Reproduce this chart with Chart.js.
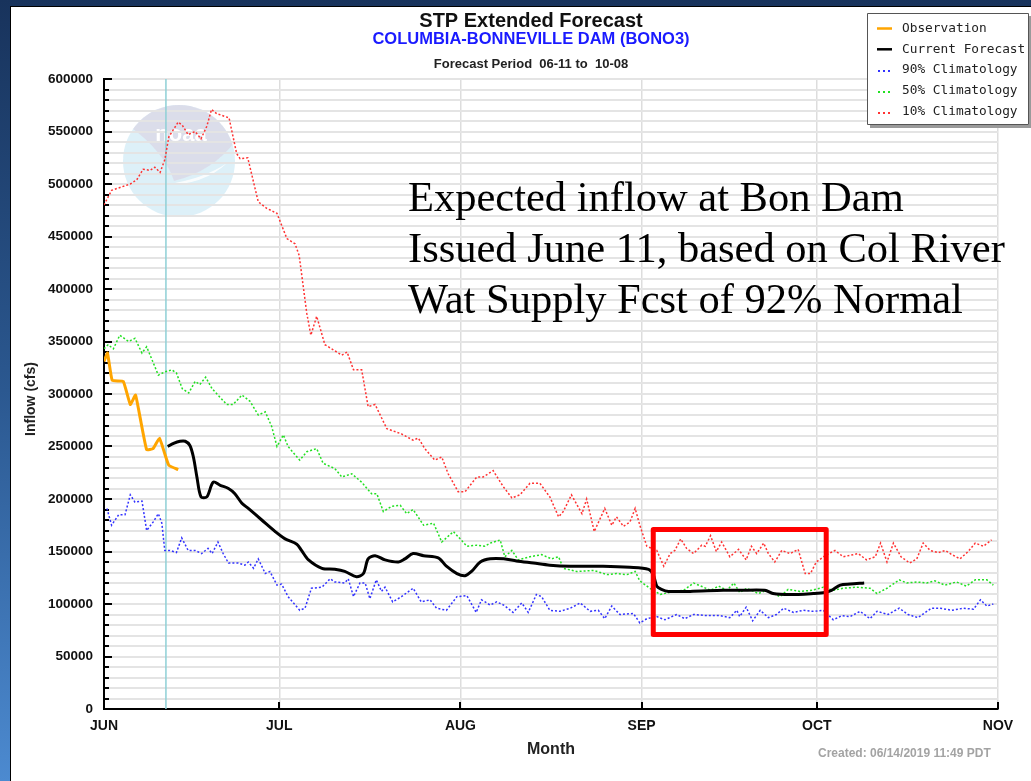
<!DOCTYPE html>
<html>
<head>
<meta charset="utf-8">
<script src="https://cdn.jsdelivr.net/npm/chart.js@4.4.1/dist/chart.umd.min.js"></script>
<style>
  html, body { margin: 0; padding: 0; }
  body { width: 1031px; height: 781px; overflow: hidden; position: relative;
         background: linear-gradient(to bottom, #18335c 0%, #2b5890 50%, #4c8ad0 100%); }
  #panel { position: absolute; left: 10px; top: 6px; width: 1020px; height: 774px;
           background: #fff; border-left: 1px solid #000; border-top: 1px solid #000; }
  #myChart { position: absolute; left: 0; top: 0; }
</style>
</head>
<body>
<div id="panel"><canvas id="myChart" width="1020" height="774"></canvas></div>
<script>
// x values are days after June 1
const monthStarts = [0, 30, 61, 92, 122, 153];
const monthLabels = ['JUN', 'JUL', 'AUG', 'SEP', 'OCT', 'NOV'];
const flowTicks = [];
for (let v = 0; v <= 600000; v += 10000) flowTicks.push(v);

const obsDays = [0, 0.6, 1.4, 3.3, 4.5, 5.4, 6.2, 7.3, 8.4, 9.5, 10.4, 11.1, 12.7];
const obsFlow = [331000, 339000, 313000, 312000, 290000, 299000, 277000, 247000, 248000, 258000, 243000, 232000, 228000];

const fcstDays = [10.9, 11.9, 13, 13.9, 14.7, 15.3, 15.9, 16.6, 17.6, 18.7, 19.9, 21.3, 22.4, 23.6, 24.7, 27, 29.3, 31, 33, 33.8,
  35, 37.3, 39.5, 41.2, 43.2, 44.4, 45.2, 46.4, 48.1, 50.4, 51.5, 52.9, 54.7, 57.2, 58.6, 60.4, 61.8, 62.9, 64.4, 66.1,
  68.4, 70.6, 73.5, 76.3, 79.8, 85.4, 90, 93.2, 94, 94.6, 95.4, 96.6, 100.3, 106, 108.8, 113.1, 114.5, 117.4, 121.4, 123.4,
  124.5, 126, 127.7, 130.1];
const fcstFlow = [250000, 253000, 255000, 255000, 251000, 240000, 221000, 202000, 202000, 216000, 213000, 210000, 205000, 196000, 191000, 180000, 169000, 162000, 157000, 151000,
  142000, 134000, 133000, 131000, 126000, 129000, 143000, 146000, 142000, 140000, 143000, 148000, 146000, 144000, 136000, 129000, 127000, 131000, 140000, 143000,
  143000, 141000, 139000, 137000, 136000, 136000, 135000, 133000, 128000, 117000, 114000, 112000, 112000, 113000, 113000, 113000, 110000, 109000, 110000, 111000,
  113000, 118000, 119000, 120000];

const c90Days = [0.5, 1.3, 2.5, 3.6, 4.5, 5.3, 6.5, 7.3, 8.4, 9.3, 9.9, 10.4, 11.3, 12.4, 13.3, 14.4, 15.6, 16.7, 17.8, 18.5,
  19.5, 20.4, 21.3, 23, 24.1, 24.7, 25.6, 26.4, 27.6, 28.4, 29.6, 30.4, 31.5, 33.5, 34.4, 35.5, 37.3, 38.7, 39.5, 41.2,
  41.8, 42.7, 43.8, 44.7, 45.5, 46.6, 47.5, 48.1, 49.4, 50.9, 52.9, 54.3, 55.8, 56.9, 58.6, 60.4, 62.1, 63.7, 64.6, 66.1,
  67.2, 68.4, 70, 71.5, 72.6, 74, 74.9, 76.3, 78, 79.8, 81.5, 83.2, 84.6, 85.7, 86.9, 88.3, 90.6, 91.7, 92.9, 94.6,
  96, 98, 99.4, 100.9, 103.1, 105.4, 107.1, 108.3, 108.8, 109.9, 111, 112.3, 113.7, 115.1, 116.3, 118, 119.7, 121.4, 123.1, 124.8,
  126.3, 127.7, 129.4, 131.1, 132.3, 134.2, 136.1, 137.6, 139.3, 141.6, 143.1, 145.1, 147.1, 148.8, 150, 151.1, 152.2];
const c90Flow = [191000, 175000, 185000, 185000, 204000, 197000, 198000, 170000, 178000, 186000, 177000, 151000, 151000, 149000, 163000, 151000, 151000, 148000, 153000, 148000,
  159000, 148000, 139000, 139000, 137000, 140000, 134000, 143000, 129000, 131000, 118000, 119000, 107000, 94000, 96000, 115000, 116000, 124000, 121000, 120000,
  124000, 107000, 120000, 120000, 105000, 123000, 112000, 116000, 102000, 107000, 115000, 102000, 104000, 96000, 94000, 107000, 108000, 92000, 104000, 99000,
  102000, 99000, 92000, 101000, 92000, 109000, 107000, 94000, 93000, 96000, 101000, 93000, 94000, 86000, 98000, 90000, 91000, 82000, 86000, 88000,
  85000, 90000, 86000, 90000, 89000, 89000, 87000, 94000, 88000, 97000, 84000, 94000, 87000, 90000, 96000, 92000, 94000, 93000, 94000, 85000,
  89000, 88000, 93000, 86000, 93000, 90000, 96000, 90000, 87000, 96000, 96000, 94000, 96000, 95000, 104000, 98000, 100000];

const c50Days = [0, 0.7, 1.6, 2.7, 4.2, 5.3, 6.5, 7.3, 9.3, 10.4, 11.6, 12.4, 13.4, 14.5, 15.6, 16.4, 17.4, 18.5, 19.5, 21,
  22.1, 23.6, 25, 26.4, 27.6, 28.7, 29.6, 30.7, 31.5, 33.5, 34.7, 36.4, 37.5, 39.5, 40.7, 42.4, 44.1, 45.8, 46.7, 47.8,
  49.2, 50.7, 51.8, 52.9, 54.7, 56.4, 57.8, 59.8, 62.1, 63.8, 65.2, 66.1, 67.8, 68.6, 69.8, 70.9, 72.9, 74.9, 76.6, 77.8,
  78.6, 80.9, 83.8, 86.1, 87.7, 89.5, 90.9, 91.7, 93.4, 95.2, 97.4, 99.2, 100.9, 102.6, 103.8, 105.2, 106.6, 107.8, 108.8, 110,
  112, 113.4, 115.7, 117.1, 119.1, 121.1, 123.1, 124.8, 126.5, 128.8, 131.1, 132.3, 134, 136.1, 137.4, 139.1, 140.8, 142.2, 143.9, 145.9,
  147.6, 149.1, 151.1, 152.2];
const c50Flow = [343000, 347000, 343000, 356000, 350000, 353000, 339000, 345000, 318000, 321000, 323000, 320000, 305000, 301000, 312000, 309000, 316000, 305000, 299000, 290000,
  290000, 299000, 293000, 280000, 283000, 269000, 250000, 261000, 250000, 237000, 245000, 248000, 234000, 229000, 221000, 224000, 216000, 205000, 205000, 188000,
  193000, 194000, 186000, 190000, 175000, 177000, 159000, 169000, 155000, 156000, 155000, 158000, 161000, 145000, 151000, 142000, 145000, 147000, 143000, 145000,
  134000, 131000, 132000, 128000, 129000, 128000, 131000, 122000, 115000, 109000, 112000, 113000, 120000, 116000, 113000, 117000, 113000, 120000, 111000, 115000,
  110000, 113000, 107000, 114000, 112000, 113000, 116000, 113000, 115000, 116000, 115000, 110000, 115000, 123000, 120000, 121000, 120000, 122000, 118000, 121000,
  117000, 123000, 123000, 118000];

const c10Days = [0, 1.3, 4.5, 5.6, 6.7, 7.9, 8.7, 9.6, 10.4, 11.1, 12.7, 13.4, 14.4, 15.6, 16.6, 17.6, 18.4, 19.3, 21.4, 22.7,
  23.3, 24.6, 26.4, 27.8, 29.6, 31.3, 32.7, 33.4, 34.7, 35.4, 36.4, 37.8, 40.7, 41.6, 42.7, 44.1, 45.2, 46.4, 48.4, 50.9,
  52.9, 53.8, 54.9, 56.6, 57.8, 58.9, 60.6, 61.8, 63.8, 64.9, 66.6, 68.3, 69.8, 71.2, 72.9, 74.6, 76.3, 77.8, 78.6, 80,
  81.8, 82.6, 83.9, 85.7, 86.9, 87.7, 88.9, 90, 90.9, 91.7, 92.9, 94.6, 95.8, 96.9, 97.7, 98.7, 99.7, 100.9, 102.3, 102.9,
  103.8, 104.8, 105.7, 107.1, 108.6, 109.9, 110.8, 111.7, 112.9, 113.7, 114.8, 116, 117.4, 118.8, 120, 120.9, 121.9, 123.4, 125.1, 126.5,
  129.1, 130.5, 132, 132.9, 134, 135.1, 136.4, 137.9, 139.1, 140.2, 141.4, 142.8, 144, 145.1, 146.5, 147.9, 149.1, 150.5, 151.9];
const c10Flow = [480000, 494000, 500000, 504000, 514000, 513000, 516000, 511000, 523000, 545000, 559000, 556000, 547000, 550000, 543000, 555000, 571000, 567000, 563000, 529000,
  524000, 525000, 483000, 477000, 472000, 448000, 443000, 432000, 377000, 356000, 374000, 347000, 337000, 340000, 323000, 323000, 288000, 290000, 267000, 262000,
  256000, 258000, 248000, 237000, 240000, 224000, 207000, 207000, 221000, 221000, 227000, 212000, 201000, 204000, 215000, 215000, 202000, 183000, 188000, 204000,
  186000, 200000, 169000, 191000, 175000, 183000, 174000, 178000, 191000, 175000, 155000, 151000, 136000, 148000, 151000, 162000, 153000, 148000, 156000, 155000,
  165000, 150000, 159000, 145000, 152000, 142000, 155000, 148000, 158000, 148000, 140000, 151000, 148000, 152000, 129000, 129000, 140000, 146000, 151000, 145000,
  148000, 142000, 145000, 158000, 140000, 158000, 145000, 139000, 143000, 158000, 151000, 149000, 151000, 147000, 143000, 150000, 158000, 155000, 161000];

const issueDay = 10.6;
const boxDays = [94, 123.6];
const boxFlow = [71000, 171000];

const legendItems = [
  { text: 'Observation', color: '#ffa500', dotted: false },
  { text: 'Current Forecast', color: '#000000', dotted: false },
  { text: '90% Climatology', color: '#3333ff', dotted: true },
  { text: '50% Climatology', color: '#22e022', dotted: true },
  { text: '10% Climatology', color: '#ff3333', dotted: true }
];

const pts = (days, flow) => days.map((d, i) => ({ x: d, y: flow[i] }));
const dotted = (label, days, flow, color) => ({
  label, data: pts(days, flow), borderColor: color, borderWidth: 1.5,
  borderDash: [2, 2], pointRadius: 0, tension: 0, fill: false
});

const data = {
  datasets: [
    { label: 'Observation', data: pts(obsDays, obsFlow), borderColor: '#ffa500', borderWidth: 3, pointRadius: 0, tension: 0.1 },
    { label: 'Current Forecast', data: pts(fcstDays, fcstFlow), borderColor: '#000', borderWidth: 3, pointRadius: 0, tension: 0.3 },
    dotted('90% Climatology', c90Days, c90Flow, '#3333ff'),
    dotted('50% Climatology', c50Days, c50Flow, '#22e022'),
    dotted('10% Climatology', c10Days, c10Flow, '#ff3333')
  ]
};

const bold = (size) => 'bold ' + size + 'px "Liberation Sans", Arial, sans-serif';

const extras = {
  id: 'extras',
  beforeDraw(chart) {
    // noaa watermark
    const ctx = chart.ctx;
    const cx = 168, cy = 154, r = 56;
    ctx.save();
    ctx.globalAlpha = 0.85;
    ctx.beginPath();
    ctx.arc(cx, cy, r, 0, Math.PI * 2);
    ctx.fillStyle = '#d7edf7';
    ctx.fill();
    ctx.clip();
    ctx.beginPath();
    ctx.moveTo(cx - 50, cy - 35);
    ctx.quadraticCurveTo(cx - 25, cy - 62, cx + 5, cy - 60);
    ctx.quadraticCurveTo(cx + 45, cy - 56, cx + 58, cy - 22);
    ctx.quadraticCurveTo(cx + 35, cy + 10, cx - 5, cy + 20);
    ctx.quadraticCurveTo(cx - 15, cy - 10, cx - 50, cy - 35);
    ctx.fillStyle = '#dcdbe9';
    ctx.fill();
    ctx.beginPath();
    ctx.moveTo(cx - 15, cy + 24);
    ctx.quadraticCurveTo(cx + 25, cy + 24, cx + 48, cy + 2);
    ctx.quadraticCurveTo(cx + 25, cy + 18, cx - 15, cy + 24);
    ctx.fillStyle = '#ffffff';
    ctx.fill();
    ctx.globalAlpha = 1;
    ctx.fillStyle = '#ffffff';
    ctx.font = bold(22);
    ctx.textAlign = 'center';
    ctx.textBaseline = 'middle';
    ctx.fillText('noaa', cx + 2, cy - 26);
    ctx.restore();
  },
  beforeDatasetsDraw(chart) {
    const ctx = chart.ctx, a = chart.chartArea;
    const x = chart.scales.x, y = chart.scales.y;
    ctx.save();
    ctx.strokeStyle = '#8fd0d6';
    ctx.lineWidth = 1.5;
    const ix = x.getPixelForValue(issueDay);
    ctx.beginPath(); ctx.moveTo(ix, a.top); ctx.lineTo(ix, a.bottom); ctx.stroke();
    // inward ticks
    ctx.strokeStyle = '#000';
    ctx.lineWidth = 2;
    flowTicks.forEach(v => {
      const py = Math.round(y.getPixelForValue(v));
      const len = v % 50000 === 0 ? 8 : 5;
      ctx.beginPath(); ctx.moveTo(a.left, py); ctx.lineTo(a.left + len, py); ctx.stroke();
    });
    monthStarts.forEach(v => {
      const px = Math.round(x.getPixelForValue(v));
      ctx.beginPath(); ctx.moveTo(px, a.bottom); ctx.lineTo(px, a.bottom - 7); ctx.stroke();
    });
    ctx.restore();
  },
  afterDraw(chart) {
    const ctx = chart.ctx, a = chart.chartArea;
    const x = chart.scales.x, y = chart.scales.y;
    ctx.save();
    // titles
    ctx.textAlign = 'center';
    ctx.textBaseline = 'alphabetic';
    ctx.fillStyle = '#111';
    ctx.font = bold(20);
    ctx.fillText('STP Extended Forecast', 520, 20);
    ctx.fillStyle = '#1a1aff';
    ctx.font = bold(16.5);
    ctx.fillText('COLUMBIA-BONNEVILLE DAM (BONO3)', 520, 37);
    ctx.fillStyle = '#222';
    ctx.font = bold(13);
    ctx.fillText('Forecast Period  06-11 to  10-08', 520, 61);
    // axis titles
    ctx.font = bold(16);
    ctx.fillStyle = '#222';
    ctx.textBaseline = 'middle';
    ctx.fillText('Month', (a.left + a.right) / 2, 743);
    ctx.save();
    ctx.translate(20.5, (a.top + a.bottom) / 2 + 5);
    ctx.rotate(-Math.PI / 2);
    ctx.font = bold(14);
    ctx.fillText('Inflow (cfs)', 0, 0);
    ctx.restore();
    ctx.textAlign = 'left';
    ctx.font = bold(12);
    ctx.fillStyle = '#a3a3a3';
    ctx.fillText('Created: 06/14/2019 11:49 PDT', 807, 747);
    // note text
    ctx.fillStyle = '#000';
    ctx.textBaseline = 'alphabetic';
    ctx.font = '42.5px "Liberation Serif", "Times New Roman", serif';
    ctx.fillText('Expected inflow at Bon Dam', 397, 204);
    ctx.fillText('Issued June 11, based on Col River', 397, 255);
    ctx.fillText('Wat Supply Fcst of 92% Normal', 397, 306);
    // highlight box
    const bx0 = x.getPixelForValue(boxDays[0]), bx1 = x.getPixelForValue(boxDays[1]);
    const by0 = y.getPixelForValue(boxFlow[1]), by1 = y.getPixelForValue(boxFlow[0]);
    ctx.strokeStyle = '#ff0000';
    ctx.lineWidth = 5;
    ctx.lineJoin = 'round';
    ctx.strokeRect(bx0, by0, bx1 - bx0, by1 - by0);
    // legend box
    ctx.fillStyle = '#9a9a9a';
    ctx.fillRect(859, 9, 162, 112);
    ctx.fillStyle = '#fff';
    ctx.fillRect(856, 6, 162, 112);
    ctx.strokeStyle = '#555';
    ctx.lineWidth = 1;
    ctx.strokeRect(856.5, 6.5, 161, 111);
    ctx.font = '12.8px "DejaVu Sans Mono", monospace';
    ctx.textBaseline = 'middle';
    legendItems.forEach((it, i) => {
      const ly = 21.5 + i * 20.8;
      ctx.strokeStyle = it.color;
      ctx.fillStyle = it.color;
      if (it.dotted) {
        for (let k = 0; k < 3; k++) ctx.fillRect(867 + k * 5, Math.round(ly), 2, 2);
      } else {
        ctx.lineWidth = 2.5;
        ctx.beginPath(); ctx.moveTo(866, ly); ctx.lineTo(881, ly); ctx.stroke();
      }
      ctx.fillStyle = '#222';
      ctx.fillText(it.text, 891, ly);
    });
    ctx.restore();
  }
};

const config = {
  type: 'line',
  data,
  options: {
    responsive: false,
    animation: false,
    devicePixelRatio: 1,
    layout: { padding: { left: 0, right: 33, top: 72, bottom: 0 } },
    plugins: { legend: { display: false }, title: { display: false }, tooltip: { enabled: false } },
    scales: {
      x: {
        type: 'linear', min: 0, max: 153,
        afterBuildTicks: s => { s.ticks = monthStarts.map(v => ({ value: v })); },
        afterFit: s => { s.height = 72; },
        ticks: {
          autoSkip: false, maxRotation: 0, padding: 9, color: '#111',
          font: { family: '"Liberation Sans", Arial', size: 14, weight: 'bold' },
          callback: (v, i) => monthLabels[i]
        },
        grid: { color: '#dddddd', lineWidth: 1.5, drawTicks: false },
        border: { color: '#000', width: 2 }
      },
      y: {
        min: 0, max: 600000,
        afterBuildTicks: s => { s.ticks = flowTicks.map(v => ({ value: v })); },
        afterFit: s => { s.width = 93; },
        ticks: {
          autoSkip: false, padding: 11, color: '#111',
          font: { family: '"Liberation Sans", Arial', size: 13.5, weight: 'bold' },
          callback: v => (v % 50000 === 0 ? String(v) : '')
        },
        grid: { color: '#e4e4e4', lineWidth: 2, drawTicks: false },
        border: { color: '#000', width: 2 }
      }
    }
  },
  plugins: [extras]
};

const myChart = new Chart(document.getElementById('myChart'), config);
</script>
</body>
</html>
